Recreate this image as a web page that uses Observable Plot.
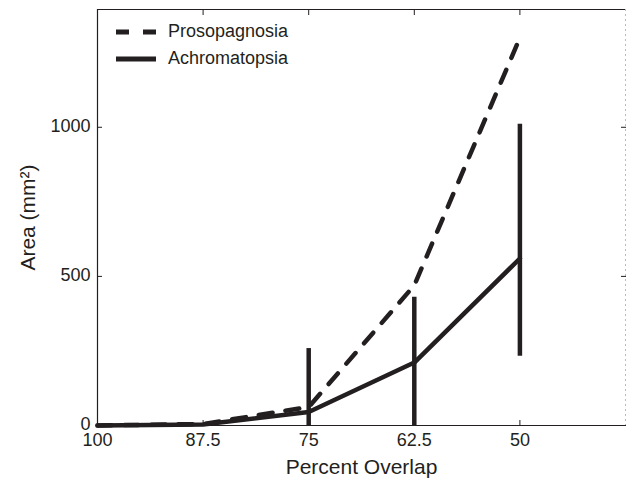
<!DOCTYPE html>
<html>
<head>
<meta charset="utf-8">
<script src="https://cdn.jsdelivr.net/npm/d3@7"></script>
<script src="https://cdn.jsdelivr.net/npm/@observablehq/plot@0.6"></script>
<style>
  html, body { margin: 0; padding: 0; background: #fff; }
  #wrap { position: relative; width: 626px; height: 483px; }
  #legend { position: absolute; left: 116px; top: 18px; font-family: "Liberation Sans", Arial, sans-serif; font-size: 18px; color: #231f20; }
  #legend .row { display: flex; align-items: center; height: 27px; }
  #legend svg { margin-right: 12px; }
  g[aria-label="x-axis label"] text, g[aria-label="y-axis label"] text { font-size: 21px; }
</style>
</head>
<body>
<div id="wrap"></div>
<script>
// ---- data ----
const overlap = [100, 87.5, 75, 62.5, 50];
const prosopagnosia = [0, 5, 62, 470, 1300];
const achromatopsia = [0, 3, 45, 211, 560];
const achroLow  = [null, null, 0, 0, 232];
const achroHigh = [null, null, 258, 430, 1010];
const xTicks = [100, 87.5, 75, 62.5, 50];
const yTicks = [0, 500, 1000];
const xDomain = [100, 37.5];
const yDomain = [0, 1395];
const seriesNames = ["Prosopagnosia", "Achromatopsia"];

const ink = "#231f20";

const lineData = overlap.map((o, i) => ({overlap: o, area: prosopagnosia[i]}));
const achroData = overlap.map((o, i) => ({overlap: o, area: achromatopsia[i]}));
const errData = overlap.map((o, i) => ({overlap: o, lo: achroLow[i], hi: achroHigh[i]}))
  .filter(d => d.lo != null);

const chart = Plot.plot({
  width: 626,
  height: 483,
  marginTop: 9,
  marginBottom: 58,
  marginLeft: 97,
  marginRight: 1,
  style: {fontFamily: "'Liberation Sans', Arial, sans-serif", fontSize: "18px", color: ink, background: "white"},
  x: {domain: xDomain},
  y: {domain: yDomain},
  marks: [
    // frame
    Plot.ruleX([xDomain[0]], {stroke: ink, strokeWidth: 1.2}),
    Plot.ruleY([yDomain[0]], {stroke: ink, strokeWidth: 1.2}),
    Plot.ruleY([yDomain[1]], {stroke: ink, strokeWidth: 1.2}),
    Plot.ruleX([xDomain[1]], {stroke: "#bbb", strokeWidth: 1, strokeDasharray: "2,3"}),
    // inward ticks
    Plot.axisX({ticks: xTicks, tickSize: 5, dy: -5, tickFormat: () => "", label: null, stroke: ink}),
    Plot.axisX({anchor: "top", ticks: xTicks, tickSize: 5, dy: 5, tickFormat: () => "", label: null, stroke: ink}),
    Plot.axisY({ticks: yTicks, tickSize: 5, dx: 5, tickFormat: () => "", label: null, stroke: ink}),
    Plot.axisY({anchor: "right", ticks: yTicks, tickSize: 5, dx: -5, tickFormat: () => "", label: null, stroke: ink}),
    // tick labels + axis labels
    Plot.axisX({ticks: xTicks, tickSize: 0, tickPadding: 8, tickFormat: d => String(d), label: "Percent Overlap", labelAnchor: "center", labelArrow: "none", labelOffset: 48, fill: ink}),
    Plot.axisY({ticks: yTicks, tickSize: 0, tickPadding: 7, tickFormat: d => String(d), label: "Area (mm²)", labelAnchor: "center", labelArrow: "none", labelOffset: 77, fill: ink, dy: -1}),
    // error bars
    Plot.ruleX(errData, {x: "overlap", y1: "lo", y2: "hi", stroke: ink, strokeWidth: 4.5, clip: true}),
    // lines
    Plot.line(lineData, {x: "overlap", y: "area", stroke: ink, strokeWidth: 4.5, strokeDasharray: "14,13"}),
    Plot.line(achroData, {x: "overlap", y: "area", stroke: ink, strokeWidth: 4.5})
  ]
});

const wrap = document.getElementById("wrap");
wrap.appendChild(chart);

// legend
const legend = document.createElement("div");
legend.id = "legend";
seriesNames.forEach((name, i) => {
  const row = document.createElement("div");
  row.className = "row";
  row.innerHTML = `<svg width="40" height="10"><line x1="0" y1="5" x2="40" y2="5" stroke="${ink}" stroke-width="5" ${i === 0 ? 'stroke-dasharray="13,14"' : ''}/></svg><span>${name}</span>`;
  legend.appendChild(row);
});
wrap.appendChild(legend);
</script>
</body>
</html>
